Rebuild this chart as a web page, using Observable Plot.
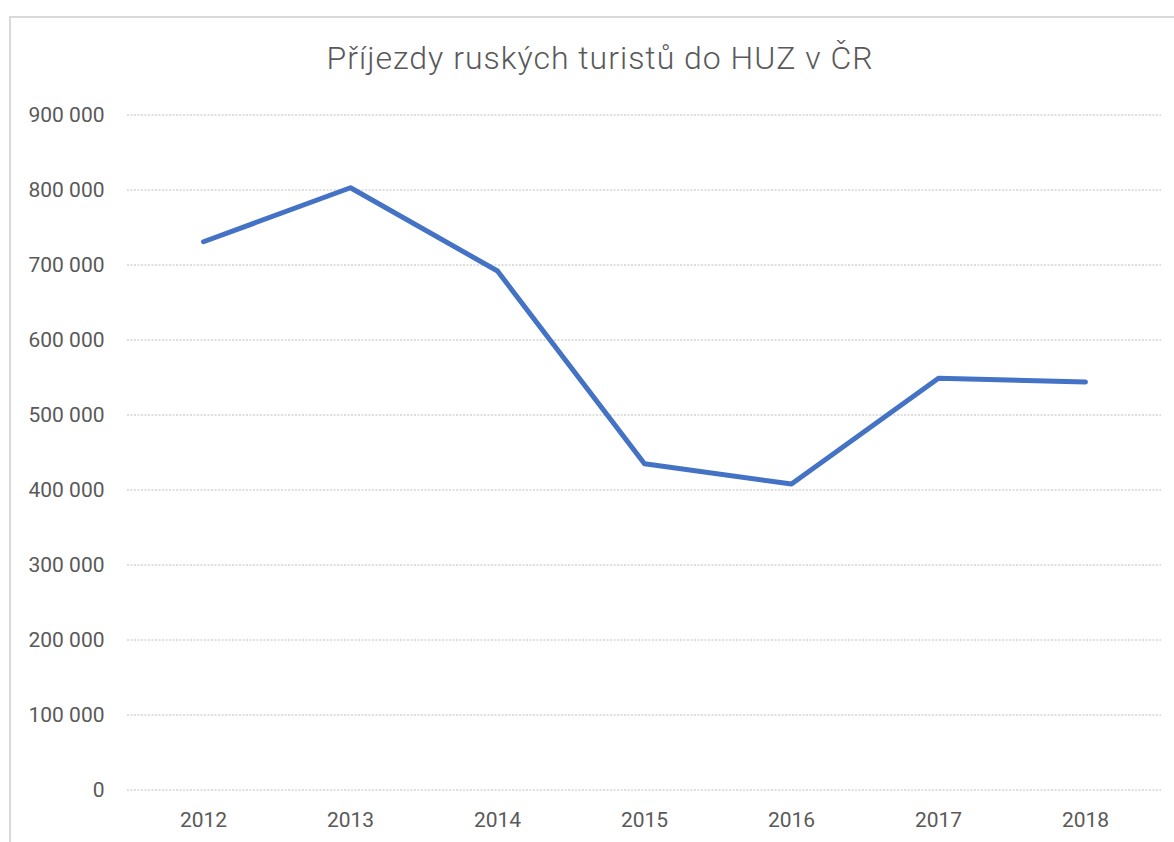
<!DOCTYPE html>
<html>
<head>
<meta charset="utf-8">
<script src="https://cdn.jsdelivr.net/npm/d3@7"></script>
<script src="https://cdn.jsdelivr.net/npm/@observablehq/plot@0.6"></script>
<style>
  html, body { margin: 0; padding: 0; background: #fff; overflow: hidden; }
  #wrap { position: relative; width: 1174px; height: 842px; overflow: hidden; }
  #frame { position: absolute; left: 9px; top: 16px; width: 1200px; height: 900px;
           border-left: 2px solid #d9d9d9; border-top: 2px solid #d9d9d9; box-sizing: border-box; }
  #title { position: absolute; left: 10px; top: 0; width: 1180px; height: 100px; box-sizing: border-box;
           padding-top: 38px; text-align: center; font-family: Roboto, sans-serif; font-weight: 300;
           font-size: 32px; letter-spacing: 1px; line-height: 40px; color: #595959; }
  #chart { position: absolute; left: 0; top: 100px; }
</style>
</head>
<body>
<div id="wrap">
  <div id="frame"></div>
  <div id="title">Příjezdy ruských turistů do HUZ v ČR</div>
  <div id="chart"></div>
</div>
<script>
const years = ["2012", "2013", "2014", "2015", "2016", "2017", "2018"];
const arrivals = [731000, 803000, 692000, 435000, 408000, 549000, 544000];
const yTicks = [0, 100000, 200000, 300000, 400000, 500000, 600000, 700000, 800000, 900000];

const data = years.map((y, i) => ({year: y, value: arrivals[i]}));
const fmt = v => d3.format(",")(v).replace(/,/g, " ");

const chart = Plot.plot({
  width: 1174,
  height: 742,
  marginTop: 14.5,
  marginBottom: 52.5,
  marginLeft: 127,
  marginRight: 13,
  style: {fontFamily: "Roboto, sans-serif", fontSize: "21px", color: "#595959", background: "transparent"},
  x: {type: "point", domain: years, padding: 0.5, label: null},
  y: {domain: [0, 900000], ticks: yTicks, label: null},
  marks: [
    Plot.ruleY(yTicks, {stroke: "#bdbdbd", strokeWidth: 1, strokeDasharray: "2,1.5"}),
    Plot.axisY({ticks: yTicks, tickFormat: fmt, tickSize: 0, tickPadding: 23, label: null, fill: "#595959"}),
    Plot.axisX({tickSize: 0, tickPadding: 22, label: null, fill: "#595959"}),
    Plot.line(data, {x: "year", y: "value", stroke: "#4472C4", strokeWidth: 5,
                     strokeLinejoin: "round", strokeLinecap: "round"})
  ]
});
document.getElementById("chart").appendChild(chart);
</script>
</body>
</html>
